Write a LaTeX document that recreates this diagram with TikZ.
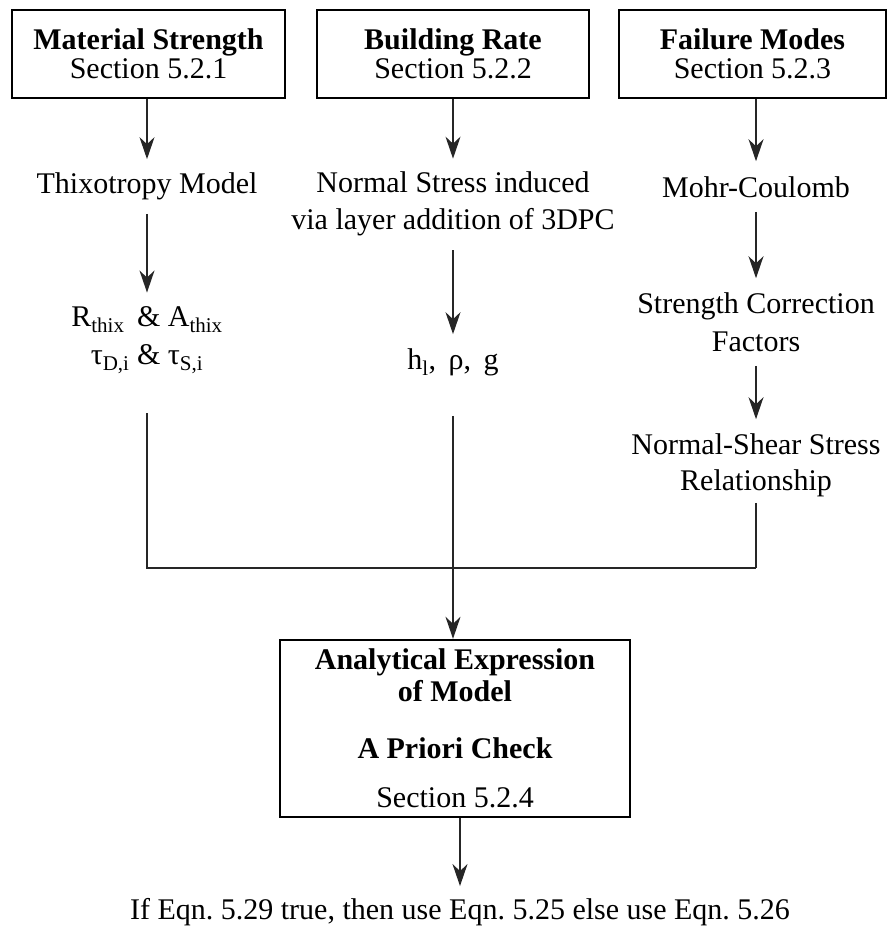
\documentclass[tikz,border=0pt]{standalone}
\usepackage{fontspec}
\setmainfont{Liberation Serif}
\usetikzlibrary{arrows.meta,positioning}
\frenchspacing

\begin{document}
\begin{tikzpicture}[x=1pt,y=-1pt,
        font=\fontsize{30}{38}\selectfont,
        secbox/.style={draw,line width=2.4pt,minimum width=273pt,minimum height=88pt,align=center,inner sep=0pt},
        stage/.style={align=center,inner sep=0pt},
        flow/.style={line width=1.4pt,black!85,-{Stealth[length=22pt,width=15pt,inset=7pt]}},
        link/.style={line width=1.4pt,black!85}]
        \useasboundingbox (0,0) rectangle (892,928);
        % section boxes
        \node[secbox] (ms) at (148.5,54) {\textbf{Material Strength}\\[-9pt]Section 5.2.1};
        \node[secbox,minimum width=272pt] (br) at (453,54) {\textbf{Building Rate}\\[-9pt]Section 5.2.2};
        \node[secbox,minimum width=267pt] (fm) at (752.5,54) {\textbf{Failure Modes}\\[-9pt]Section 5.2.3};
        % intermediate steps
        \node[stage] (thix) at (147,186) {Thixotropy Model};
        \node[stage] (stress) at (453,204) {Normal Stress induced\\[-1pt]via layer addition of 3DPC};
        \node[stage] (mc) at (756,187) {Mohr-Coulomb};
        \node[stage] (rparam) at (147,340) {R\textsubscript{thix}\, \& A\textsubscript{thix}\\[0pt]τ\textsubscript{D,i} \& τ\textsubscript{S,i}};
        \node[stage] (hparam) at (453,362) {h\textsubscript{l},\, ρ,\, g};
        \node[stage] (scf) at (756,322) {Strength Correction\\[0pt]Factors};
        \node[stage] (nss) at (756,465) {Normal-Shear Stress\\[-2pt]Relationship};
        % analytical model
        \node[secbox,minimum width=350pt,minimum height=177pt] (ana) at (455,728.5)
            {\textbf{Analytical Expression}\\[-6pt]\textbf{of Model}\\[19pt]\textbf{A Priori Check}\\[11pt]Section 5.2.4};
        \node[stage] (res) at (460,912) {If Eqn. 5.29 true, then use Eqn. 5.25 else use Eqn. 5.26};
        \coordinate (hz) at (0,568);
        % connectors
        \draw[flow,shorten >=13pt] (ms.south -| thix) -- (thix.north);
        \draw[flow,shorten >=13pt] (br.south -| stress) -- (stress.north);
        \draw[flow,shorten >=15pt] (fm.south -| mc) -- (mc.north);
        \draw[flow,shorten <=14pt,shorten >=14pt] (thix.south) -- (rparam.north);
        \draw[flow,shorten <=14pt,shorten >=14pt] (stress.south) -- (hparam.north);
        \draw[flow,shorten <=14pt,shorten >=14pt] (mc.south) -- (scf.north);
        \draw[flow,shorten <=14pt,shorten >=14pt] (scf.south) -- (nss.north);
        \draw[link,shorten <=40pt] (rparam.south) |- (hz -| nss.south);
        \draw[link,shorten <=6pt] (nss.south) -- (hz -| nss.south);
        \draw[flow,shorten <=40pt] (hparam.south) -- (ana.north -| hparam.south);
        \draw[flow,shorten >=12pt] (ana.south -| res) -- (res.north);
\end{tikzpicture}
\end{document}
